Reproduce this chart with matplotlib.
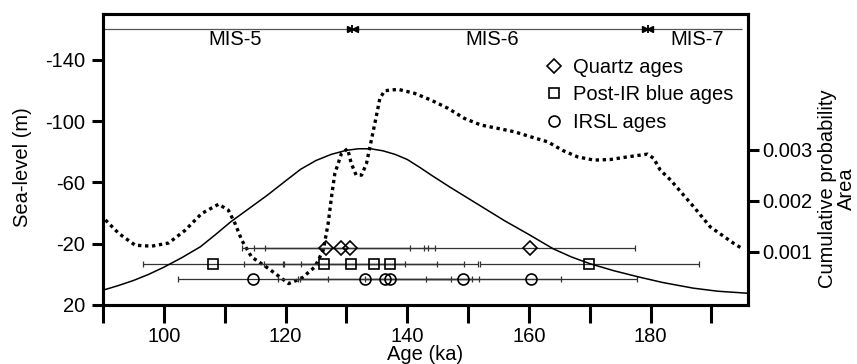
import numpy as np
import matplotlib.pyplot as plt
from matplotlib.lines import Line2D

plt.rcParams['font.family'] = ['Liberation Sans', 'DejaVu Sans']
plt.rcParams['font.size'] = 14.5
plt.rcParams['axes.unicode_minus'] = False

# sea-level curve (m), left axis
sl_age = [90.4, 92.6, 95.3, 98.0, 100.8, 103.5, 106.2, 109.0, 110.6, 111.7,
          112.8, 114.4, 117.2, 120.5, 122.6, 124.8, 126.2, 127.0, 127.6, 128.1,
          129.2, 130.2, 130.8, 131.6, 132.5, 133.3, 134.1, 134.9, 135.5, 136.3,
          138.5, 141.2, 143.9, 146.7, 149.4, 152.1, 154.9, 157.6, 160.3, 163.1,
          165.5, 168.0, 170.7, 173.4, 176.2, 179.5, 180.5, 181.6, 183.3, 187.1,
          189.8, 193.7, 195.2]
sl_m = [-35.5, -26.7, -19.0, -18.4, -20.5, -28.8, -39.7, -45.8, -41.9, -33.2,
        -22.3, -11.4, -3.8, 6.0, 2.7, -4.8, -15.8, -33.2, -52.0, -65.9,
        -79.0, -82.0, -72.4, -64.8, -64.8, -72.4, -87.6, -102.9, -114.9, -119.9,
        -120.8, -118.2, -113.8, -108.4, -101.8, -97.5, -95.3, -93.1, -89.8, -86.5,
        -81.0, -76.7, -74.6, -75.0, -76.7, -78.5, -75.7, -68.0, -61.5, -44.0,
        -31.0, -20.1, -16.5]

# cumulative probability, right axis
cp_age = [90, 92.5, 95, 97.5, 100, 103, 106, 108.5, 111, 114, 117, 120,
          122.5, 125, 127.5, 130, 132, 134, 136, 138, 140, 142, 144, 147,
          150, 153, 156, 160, 164, 167, 170, 174, 178, 182, 187, 191, 196]
cp_val = [0.00025, 0.00034, 0.00044, 0.00056, 0.00070, 0.00089, 0.00110,
          0.00134, 0.00159, 0.00185, 0.00211, 0.00239, 0.00262, 0.00279,
          0.00291, 0.00299, 0.00302, 0.00302, 0.00298, 0.00291, 0.00281,
          0.00266, 0.00250, 0.00227, 0.00205, 0.00183, 0.00161, 0.00134,
          0.00106, 0.00090, 0.00077, 0.00063, 0.00051, 0.00040, 0.00029,
          0.00023, 0.00019]

# ages (ka) and 1-sigma errors
quartz_age = [126.6, 129.1, 130.6, 160.1]
quartz_err = [13.8, 14.3, 13.9, 17.4]
pirb_age = [108.0, 126.4, 130.7, 134.5, 137.1, 169.9]
pirb_err = [11.5, 13.3, 14.2, 14.8, 14.6, 18.0]
irsl_age = [114.6, 133.0, 136.3, 137.1, 149.2, 160.4]
irsl_err = [12.3, 14.2, 14.3, 14.7, 16.1, 17.4]

mis_bounds = [131.0, 179.5]
mis_names = ['MIS-5', 'MIS-6', 'MIS-7']

fig = plt.figure(figsize=(8.57, 3.64), dpi=100)
ax = fig.add_axes([0.1202, 0.1621, 0.7526, 0.7995])
ax2 = ax.twinx()

# MIS bar along the top
mis_level = -160
ax.hlines(mis_level, 90, 195, color='#555555', lw=0.9)
for b in mis_bounds:
    ax.plot(b - 0.45, mis_level, marker='>', ms=4.5, color='k')
    ax.plot(b + 0.45, mis_level, marker='<', ms=4.5, color='k')
    ax.plot(b, mis_level, marker='|', ms=6, mew=1.3, color='k')
for name, xm in zip(mis_names, [111.7, 154.0, 187.7]):
    ax.text(xm, -153.5, name, ha='center', va='center')

# dotted sea-level
ax.plot(sl_age, sl_m, color='k', lw=2.4, ls=(0, (1, 1.1)))

# age rows
rows = [(quartz_age, quartz_err, -17, 'D', 7.2, 'Quartz ages'),
        (pirb_age, pirb_err, -7, 's', 7.9, 'Post-IR blue ages'),
        (irsl_age, irsl_err, 3, 'o', 7.9, 'IRSL ages')]
handles = []
for ages, errs, lev, mk, ms, lab in rows:
    yy = np.full(len(ages), lev)
    ax.errorbar(ages, yy, xerr=errs, fmt='none', ecolor='#333333',
                elinewidth=0.9, capsize=2.3, capthick=0.9)
    ax.plot(ages, yy, ls='none', marker=mk, ms=ms, mfc='none', mec='k', mew=1.2)
    handles.append(Line2D([], [], ls='none', marker=mk, ms=ms, mfc='none',
                          mec='k', mew=1.2, label=lab))

ax.legend(handles=handles, loc='center left', bbox_to_anchor=(0.684, 0.7216),
          frameon=False, borderpad=0, borderaxespad=0, handlelength=1.0,
          handletextpad=0.42, labelspacing=0.42)

# cumulative probability
ax2.plot(cp_age, cp_val, color='k', lw=1.1)

ax.set_xlim(90, 196)
ax.set_ylim(20, -170)
ax2.set_ylim(-0.00004, 0.00566)

xt = np.arange(90, 200, 10)
ax.set_xticks(xt, labels=[str(t) if t % 20 == 0 else '' for t in xt])
ax.set_yticks([-140, -100, -60, -20, 20])
ax2.set_yticks([0.001, 0.002, 0.003], labels=['0.001', '0.002', '0.003'])

for a in (ax, ax2):
    for s in a.spines.values():
        s.set_linewidth(2.2)
ax.tick_params(axis='x', direction='out', length=13, width=2.2, pad=3)
ax.tick_params(axis='y', direction='out', length=8, width=2.2, pad=5)
ax2.tick_params(axis='y', direction='out', length=8, width=2.2, pad=2)

ax.set_xlabel('Age (ka)')
ax.xaxis.set_label_coords(0.5, -0.137)
ax.set_ylabel('Sea-level (m)')
ax.yaxis.set_label_coords(-0.110, 0.4725)
ax2.set_ylabel('Cumulative probability\nArea', linespacing=1.05)
ax2.yaxis.set_label_coords(1.108, 0.40)

plt.savefig('out.png', dpi=100)
